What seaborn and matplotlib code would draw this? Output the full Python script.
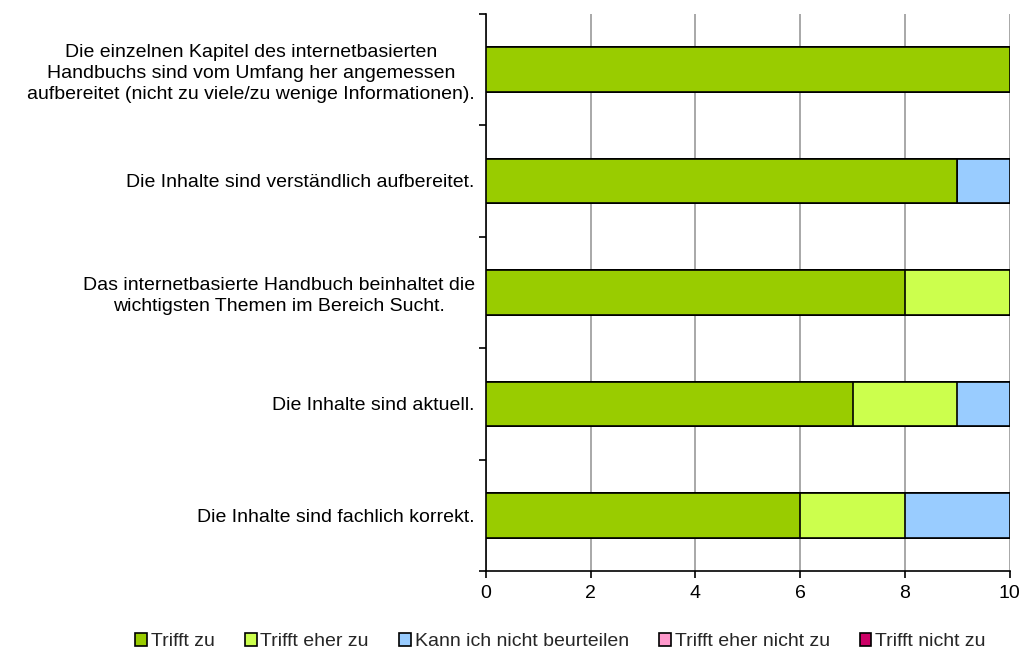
import numpy as np
import pandas as pd
import matplotlib
matplotlib.use("Agg")
import matplotlib.pyplot as plt
import seaborn as sns
from matplotlib.patches import Patch

sns.set_theme(style="white")
plt.rcParams['font.family'] = ['Liberation Sans', 'DejaVu Sans']

statements = [
    "Die einzelnen Kapitel des internetbasierten\nHandbuchs sind vom Umfang her angemessen\naufbereitet (nicht zu viele/zu wenige Informationen).",
    "Die Inhalte sind verständlich aufbereitet.",
    "Das internetbasierte Handbuch beinhaltet die\nwichtigsten Themen im Bereich Sucht.",
    "Die Inhalte sind aktuell.",
    "Die Inhalte sind fachlich korrekt.",
]
series_names = ["Trifft zu", "Trifft eher zu", "Kann ich nicht beurteilen",
                "Trifft eher nicht zu", "Trifft nicht zu"]
trifft_zu = [10, 9, 8, 7, 6]
trifft_eher_zu = [0, 0, 2, 2, 2]
kann_nicht_beurteilen = [0, 1, 0, 1, 2]
trifft_eher_nicht_zu = [0, 0, 0, 0, 0]
trifft_nicht_zu = [0, 0, 0, 0, 0]
colors = ["#99CC00", "#CCFF4D", "#99CCFF", "#FF99CC", "#CC0066"]

values = np.array([trifft_zu, trifft_eher_zu, kann_nicht_beurteilen,
                   trifft_eher_nicht_zu, trifft_nicht_zu], dtype=float)
cumulative = np.cumsum(values, axis=0)

FS = 14

fig = plt.figure(figsize=(10.23, 6.55), dpi=100)
ax = fig.add_axes([0.475, 0.128, 0.512, 0.851])

# stacked bars: draw cumulative totals from the outermost segment inward
for i in reversed(range(len(series_names))):
    df = pd.DataFrame({"statement": statements, "value": cumulative[i]})
    sns.barplot(data=df, x="value", y="statement", order=statements,
                color=colors[i], saturation=1, orient="h", width=0.4,
                edgecolor="black", linewidth=1.2, ax=ax, zorder=3)

ax.set_xlim(0, 10)
ax.set_ylim(len(statements) - 0.5, -0.5)
ax.set_xticks([0, 2, 4, 6, 8, 10])
ax.set_xlabel("")
ax.set_ylabel("")
ax.xaxis.grid(True, color="#999999", linewidth=1.2, zorder=0)
ax.yaxis.grid(False)
ax.set_axisbelow(True)

for side in ["top", "right"]:
    ax.spines[side].set_visible(False)
for side in ["left", "bottom"]:
    ax.spines[side].set_color("black")
    ax.spines[side].set_linewidth(1.2)

ax.tick_params(axis="x", which="major", bottom=True, length=5, width=1.2,
               color="black", labelsize=FS, labelcolor="black", pad=5)
ax.tick_params(axis="y", which="major", left=False, length=0,
               labelsize=FS, labelcolor="black", pad=8)
ax.set_yticks(np.arange(-0.5, len(statements)), minor=True)
ax.tick_params(axis="y", which="minor", left=True, length=5, width=1.2,
               color="black")
for lbl in ax.get_yticklabels():
    lbl.set_multialignment("center")
    lbl.set_linespacing(1.3)

handles = [Patch(facecolor=c, edgecolor="black", linewidth=1.2, label=n)
           for c, n in zip(colors, series_names)]
fig.legend(handles=handles, loc="center", bbox_to_anchor=(0.548, 0.02),
           ncol=5, frameon=False, fontsize=FS, handlelength=0.6,
           handleheight=0.6, handletextpad=0.2, columnspacing=1.55)

fig.savefig("out.png", dpi=100, facecolor="white")
